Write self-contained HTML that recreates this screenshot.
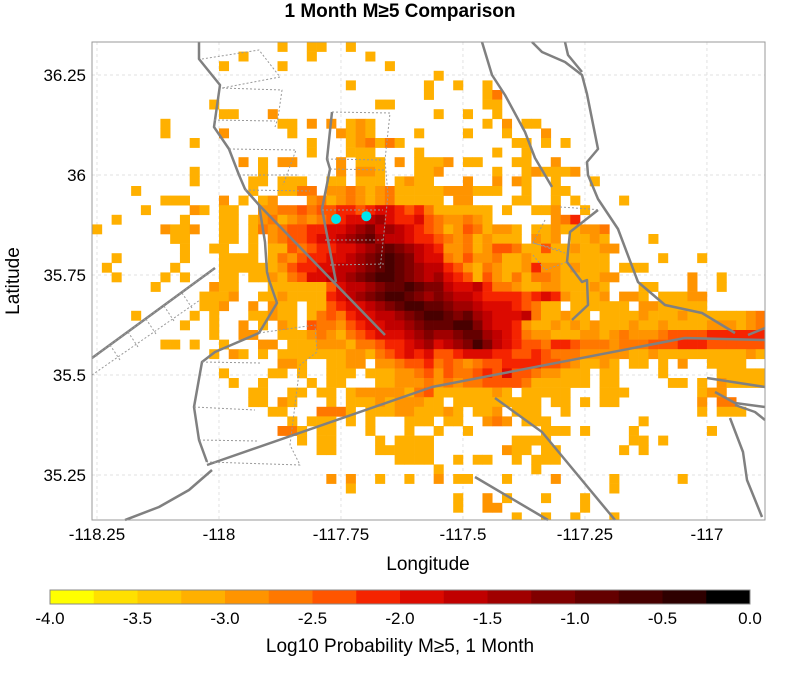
<!DOCTYPE html>
<html><head><meta charset="utf-8"><style>
html,body{margin:0;padding:0;background:#fff;}
body{width:800px;height:670px;overflow:hidden;font-family:"Liberation Sans",sans-serif;}
svg text{font-family:"Liberation Sans",sans-serif;}
</style></head><body>
<svg id="chart" width="800" height="670" viewBox="0 0 800 670">
<text x="400" y="17" text-anchor="middle" font-size="19" font-weight="bold">1 Month M≥5 Comparison</text>
<g id="grid"></g>
<g id="cells"></g>
<g id="faults" fill="none" stroke="#808080" stroke-width="2.5" stroke-linejoin="round"></g>
<g id="marks"></g>
<rect x="92" y="42" width="673" height="478" fill="none" stroke="#999" stroke-width="1"/>
<g id="xticks" font-size="17" text-anchor="middle"></g>
<g id="yticks" font-size="17" text-anchor="end"></g>
<text x="428" y="570" text-anchor="middle" font-size="19">Longitude</text>
<text transform="translate(19,281) rotate(-90)" text-anchor="middle" font-size="19">Latitude</text>
<g id="cbar"></g>
<text x="400" y="652" text-anchor="middle" font-size="19">Log10 Probability M≥5, 1 Month</text>
</svg>
<script>
const lonTicks=[-118.25,-118,-117.75,-117.5,-117.25,-117];
const lonTickLabels=["-118.25","-118","-117.75","-117.5","-117.25","-117"];
const latTicks=[36.25,36,35.75,35.5,35.25];
const latTickLabels=["36.25","36","35.75","35.5","35.25"];
const cbarTicks=[-4,-3.5,-3,-2.5,-2,-1.5,-1,-0.5,0];
const cbarTickLabels=["-4.0","-3.5","-3.0","-2.5","-2.0","-1.5","-1.0","-0.5","0.0"];
const palette=["#ffff00","#ffe000","#ffc800","#ffb000","#ff9400","#ff7800","#ff5500","#f52400","#dc0a00","#c00000","#a00000","#800000","#640000","#480000","#2e0000","#000000"];
const gridLon0=-118.26, gridLat0=36.3325, cellLon=0.02, cellLat=0.024;
const eqLon=[-117.76,-117.698];
const eqLat=[35.89, 35.897];
const rows=[
"19:3 22:33 26:3","15:3 22:3 28:3","13:3 19:3 30:3","35:3","26:3 34:3 37:3 40:3","34:3 40:35",
"12:3 29:33 40:33","13:3 14:3 18:4 35:3 38:3 41:3","7:3 19:33 22:4 24:4 26:343 40:3 42:4 44:33",
"7:3 13:4 20:3 25:4343 33:3 38:3 42:3 46:4","10:3 22:3 26:3453 30:53 43:33 46:3 48:3",
"22:3 26:333 33:3 41:3 44:3","15:4 17:3 19:44 25:4 27:333 31:4 33:3334 38:33 43:33 47:4",
"10:3 17:3 25:4 27:443 33:33 35:4 41:3 44:3 45:43 47:334",
"10:3 16:33 19:333 24:33 27:333 31:3433 38:4 41:4 43:43 47:3 51:3",
"4:3 16:3 19:33 21:55 24:44543453 32:33334443 40:33 44:3 47:33",
"7:3 8:33 13:4 15:3 17:34 22:4534543 29:453 32:3333 37:44 43:33 47:3 49:3 54:3",
"5:3 10:43 13:33 17:44556566 25:77678876 33:7533333 40:3 42:3 45:33 47:4 50:3",
"2:3 9:3 13:33 16:34534545 24:67889a87 32:7865445 39:43 47:457",
"0:3 7:4334 13:3 14:3 16:3 17:5456677 24:889ab9a9 32:8765346 39:53443 45:3343 49:3445",
"8:33 13:33 16:3 18:4566 22:78 24:89abca998 33:7 34:76545 39:343 42:33 45:434 49:3 50:343 57:3",
"9:3 12:33 16:3 18:336567 24:7889abcba98 35:7445346 42:653 45:36 47:334 50:3344",
"2:3 9:3 13:33 15:33 18:3546778 25:89abcdcb98 35:854644 41:5 42:3343 46:3333333 58:3 62:3",
"1:3 8:3 13:33 15:333 18:34677889 26:9abcdcba9 35:976435 41:4334 45:744 48:34333 54:333",
"2:3 7:3 9:3 13:33 16:3 17:343568899 26:abcddcba9 35:a876364 41:4353 45:5543 49:33344 61:4 64:3",
"6:3 12:4 13:33 18:333333 24:6899abccdcb 35:b988976 41:554334 47:43 49:3343 56:33 61:4 64:3",
"11:3334 17:3 18:343333 24:789abcddcba 35:ba99877 42:7764 45:7874 49:3334 54:443 58:33344",
"11:334 16:4 18:4 19:33.33 24:67889abcddc 35:cbaa98 41:8876 45:5 46:33.3 50:33333 56:4433333",
"4:3 10:3 12:3 16:334 19:33.35 24:6578899abcd 35:dcbca9 41:8889 45:5334 49:33.333 55:34333433 63:333345",
"9:3 12:3 15:4 17:3 19:4 20:3.65 24:54678899abc 35:ccddb9 41:8874 45:3343 49:43433 54:343343333 63:444345",
"12:3 15:44 19:3 20:3345 24:435678889ab 35:aabcca 41:9875 45:4433 49:3443454 56:4456666777777",
"7:33 10:3 13:3 17:44 20:3334 24:4435567789a 35:89abdb 41:9876 45:6577 49:6555455 56:5666777666666",
"12:3 14:43 17:3 19:333 22:333 25:3443567878 35:66788877667655 49:5444443 56:3433333333343",
"19:44 21:3 24:3 25:344.445667 35:56545667777665 49:43343 55:33.3 60:4 63:3333",
"13:3 18:33 21:3 24:33 26:3.3334456 35:4655676866 45:5443 49:33.33 58:3 64:33333",
"14:3 17:3 22:3 24:33 29:334445 35:4545566665 45:3333 49:33 52:33 59:33 62:3.43333",
"16:33 20:33 23:33 26:3 27:44444356 35:33333343.33333 52:333 62:344",
"16:33 19:43 24:3 26:333 29:434443 35:3.333333333 47:33.3 52:33 62:4 64:55",
"18:33 23:5553 28:3334433 35:343.334.333..3 62:3 64:333",
"20:3 22:333 26:3 28:3 32:333 36:33 40:454 44:333 56:3",
"19:55 21:3 23:33 28:3 32:3 35:3 38:3 46:333 50:3 55:3 63:3",
"21:3 23:33 29:3 31:3333 43:3333 55:33 58:3",
"23:3 24:3 29:33333 34:3 42:433 46:33 54:3 56:3",
"31:3333 37:3 39:33 43:3 45:333",
"35:3 45:3",
"24:4 26:4 29:3 32:3 35:4 37:33 42:3 47:4 53:3 60:3",
"26:3 53:3",
"37:3 40:4 42:3 46:3 50:3",
"37:3 40:44 50:3",
"43:3 46:3 49:3 53:3"
];
const NS="http://www.w3.org/2000/svg";
const X0=92,X1=765,Y0=42,Y1=520;
const lonMin=-118.2602,lonMax=-116.881,latMin=35.1375,latMax=36.3325;
function xs(lon){return X0+(lon-lonMin)/(lonMax-lonMin)*(X1-X0);}
function ys(lat){return Y1-(lat-latMin)/(latMax-latMin)*(Y1-Y0);}
function mk(tag,attrs,parent){const e=document.createElementNS(NS,tag);for(const k in attrs)e.setAttribute(k,attrs[k]);parent.appendChild(e);return e;}
const grid=document.getElementById('grid');
lonTicks.forEach(v=>{const l=mk('line',{x1:xs(v),x2:xs(v),y1:Y0,y2:Y1,stroke:'#e2e2e2','stroke-dasharray':'3,3','stroke-width':1},grid);

});
latTicks.forEach(v=>{const l=mk('line',{x1:X0,x2:X1,y1:ys(v),y2:ys(v),stroke:'#e2e2e2','stroke-dasharray':'3,3','stroke-width':1},grid);

});
const cells=document.getElementById('cells');
rows.forEach((row,r)=>{
  row.split(' ').forEach(tok=>{
    if(!tok)return;const [s,lv]=tok.split(':');const c0=parseInt(s);
    for(let i=0;i<lv.length;i++){
      const ch=lv[i];if(ch==='.')continue;const level=parseInt(ch,16);
      const lonA=gridLon0+(c0+i)*cellLon, latA=gridLat0-r*cellLat;
      const x=xs(lonA),x2=xs(lonA+cellLon),y=ys(latA),y2=ys(latA-cellLat);
      const rc=mk('rect',{x:x.toFixed(2),y:y.toFixed(2),width:(Math.min(x2,X1)-x+0.3).toFixed(2),height:(Math.min(y2,Y1)-y+0.3).toFixed(2),fill:palette[level]},cells);
      
      
    }
  });
});
const faults=document.getElementById('faults');
const faultPaths=[
"M199,42 L199,59 L220,85 L215,120 L214,127 L229,149 L239,175 L245,189 L259,205 L265,242 L267,272 L269,280 L277,303 L259,333 L215,352 L202,362 L194,407 L199,440 L207,462",
"M207,465 L432,387 L685,338 L765,340",
"M259,205 L385,335",
"M482,42 L492,75 L505,95 L525,132 L535,158 L552,187",
"M532,42 L542,52 L565,62 L582,75 L587,94 L598,149 L587,162 L588,175 L598,199 L618,229 L638,282 L665,305 L702,313 L735,333",
"M565,42 L568,55 L582,72",
"M598,210 L570,232 L567,262 L582,282 L587,280 L588,305 L572,320",
"M748,335 L765,328",
"M707,378 L765,387","M715,392 L735,403 L765,407","M735,405 L755,412 L765,420",
"M730,418 L743,452 L747,480 L762,517",
"M495,398 L542,432 L615,520","M475,477 L548,520",
"M212,470 L189,490 L159,507 L125,520",
"M92,358 L215,268",
"M332,112 L327,159 L330,169 L322,209 L336,282"
];
faultPaths.forEach(d=>{const p=mk('path',{d:d},faults);

});
const dotted=["M202,59 L259,50 L280,77 L222,88","M222,88 L282,90 L278,118 L275,127","M214,120 L275,121","M229,149 L296,150 L283,185","M239,175 L298,175","M245,190 L310,191","M332,112 L390,113 L385,160 L388,195 L380,270","M327,159 L383,160","M330,169 L385,170","M322,210 L383,210","M325,240 L385,240","M330,265 L385,264","M259,333 L315,325 L317,352 L300,365 L290,445 L300,465 L207,462","M202,362 L260,363","M194,407 L255,410","M199,440 L258,441","M560,207 L590,209 L600,210","M545,220 L533,243 L560,250","M533,243 L565,253","M533,255 L545,270 L567,262"];
dotted.forEach(d=>{const p=mk('path',{d:d,stroke:'#999','stroke-width':1,'stroke-dasharray':'2,2'},faults);

});
const ladder=mk('path',{d:"M92,358 L215,268 M92,375 L200,300 M110,345 L120,360 M128,332 L138,347 M146,319 L156,334 M164,306 L174,321 M182,293 L192,308",stroke:'#999','stroke-width':1,'stroke-dasharray':'2,2'},faults);


const marks=document.getElementById('marks');
eqLon.forEach((lo,i)=>{const c=mk('circle',{cx:xs(lo),cy:ys(eqLat[i]),r:5,fill:'#00e5ee'},marks);

});
const xt=document.getElementById('xticks');
lonTicks.forEach((v,i)=>{const t=mk('text',{x:xs(v),y:540},xt);t.textContent=lonTickLabels[i];

});
const yt=document.getElementById('yticks');
latTicks.forEach((v,i)=>{const t=mk('text',{x:86,y:ys(v)+6},yt);t.textContent=latTickLabels[i];

});
const cb=document.getElementById('cbar');
const CB0=50,CB1=750;function cbx(v){return CB0+(v+4)/4*(CB1-CB0);}
palette.forEach((col,i)=>{const v=-4+i*0.25;const r=mk('rect',{x:cbx(v),y:590,width:cbx(v+0.25)-cbx(v)+0.3,height:14,fill:col},cb);

});
const cbf=mk('rect',{x:CB0,y:590,width:CB1-CB0,height:14,fill:'none',stroke:'#888','stroke-width':1},cb);


cbarTicks.forEach((v,i)=>{const t=mk('text',{x:cbx(v),y:624,'font-size':17,'text-anchor':'middle'},cb);t.textContent=cbarTickLabels[i];

});
</script>
</body></html>
